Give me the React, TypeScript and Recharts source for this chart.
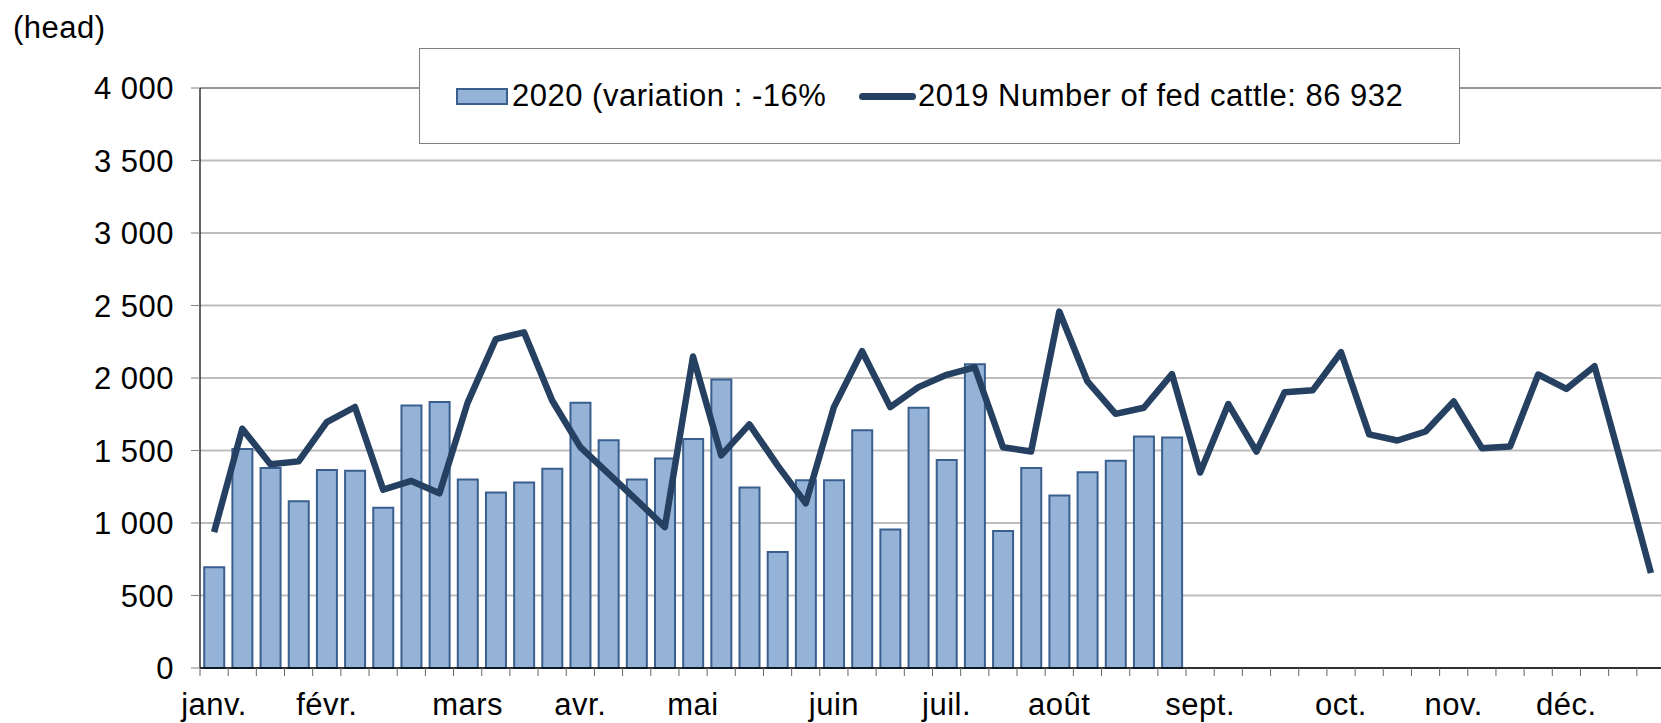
import React from 'react';
import { ComposedChart, Bar, Line, XAxis, YAxis, CartesianGrid, Legend, ReferenceLine } from 'recharts';

// month label shown under the first week of each month, blank otherwise
const weekLabels = [
  'janv.', '', '', '', 'févr.', '', '', '', '', 'mars', '', '', '', 'avr.', '', '', '', 'mai',
  '', '', '', '', 'juin', '', '', '', 'juil.', '', '', '', 'août', '', '', '', '', 'sept.',
  '', '', '', '', 'oct.', '', '', '', 'nov.', '', '', '', 'déc.', '', '', '',
];

const fed2020 = [
  695, 1510, 1380, 1150, 1365, 1360, 1105, 1810, 1835, 1300, 1210, 1280, 1375, 1830, 1570, 1300,
  1445, 1580, 1990, 1245, 800, 1295, 1295, 1640, 955, 1795, 1435, 2095, 945, 1380, 1190, 1350,
  1430, 1597, 1590,
];

const fed2019 = [
  937, 1650, 1405, 1425, 1695, 1800, 1230, 1290, 1205, 1830, 2268, 2315, 1845, 1523, 1340, 1158,
  972, 2148, 1466, 1680, 1397, 1135, 1799, 2185, 1799, 1937, 2022, 2074, 1523, 1493, 2458, 1976,
  1753, 1795, 2027, 1348, 1820, 1493, 1902, 1916, 2178, 1611, 1569, 1631, 1838, 1516, 1528, 2024,
  1925, 2081, 1375, 655,
];

const yTicks = [0, 500, 1000, 1500, 2000, 2500, 3000, 3500, 4000];

const label2020 = '2020 (variation : -16%';
const label2019 = '2019 Number of fed cattle: 86 932';

const data = weekLabels.map((label, i) => ({
  week: i + 1,
  label,
  y2020: i < fed2020.length ? fed2020[i] : null,
  y2019: fed2019[i],
}));

const W = 1665;
const H = 723;
const LEFT = 200;
const BAND = (W - LEFT) / weekLabels.length;
const FONT = '"Liberation Sans", Arial, sans-serif';
const FS = 31;
const LS = 0.5;

const fmt = (v: number) =>
  v >= 1000 ? `${Math.floor(v / 1000)} ${String(v % 1000).padStart(3, '0')}` : String(v);

function WeekTick(props: any) {
  const { x, y, index } = props;
  const lbl = weekLabels[index];
  return (
    <g>
      <line x1={x - BAND / 2} y1={y} x2={x - BAND / 2} y2={y + 8} stroke="#666" strokeWidth={1} />
      {lbl ? (
        <text
          x={x}
          y={y + 47}
          textAnchor="middle"
          fontSize={FS}
          letterSpacing={LS}
          fill="#000"
          fontFamily={FONT}
        >
          {lbl}
        </text>
      ) : null}
    </g>
  );
}

function LegendBox() {
  return (
    <div
      style={{
        position: 'relative',
        width: 1041,
        height: 96,
        boxSizing: 'border-box',
        border: '1.5px solid #808080',
        background: '#fff',
        fontFamily: FONT,
        fontSize: FS,
        letterSpacing: LS,
        color: '#000',
      }}
    >
      <div
        style={{
          position: 'absolute', left: 36, top: 39, width: 52, height: 17,
          boxSizing: 'border-box', background: '#95b3d7', border: '2px solid #3a5f8e',
        }}
      />
      <div style={{ position: 'absolute', left: 92, top: 30, lineHeight: '34px', whiteSpace: 'nowrap' }}>
        {label2020}
      </div>
      <div
        style={{
          position: 'absolute', left: 439, top: 44, width: 57, height: 7,
          borderRadius: 4, background: '#254061',
        }}
      />
      <div style={{ position: 'absolute', left: 498, top: 30, lineHeight: '34px', whiteSpace: 'nowrap' }}>
        {label2019}
      </div>
    </div>
  );
}

export default function App() {
  return (
    <div
      style={{
        position: 'absolute', left: 0, top: 0, width: 1661, height: H,
        overflow: 'hidden', background: '#fff', fontFamily: FONT,
      }}
    >
      <div
        style={{
          position: 'absolute', left: 13, top: 13, fontSize: FS, letterSpacing: LS,
          lineHeight: '30px', color: '#000',
        }}
      >
        (head)
      </div>
      <ComposedChart
        width={W}
        height={H}
        data={data}
        margin={{ top: 88, right: 0, bottom: 0, left: 0 }}
        barCategoryGap="15%"
      >
        <CartesianGrid vertical={false} stroke="#bdbdbd" strokeWidth={2} />
        <ReferenceLine y={4000} stroke="#8a8a8a" strokeWidth={1.5} />
        <XAxis
          dataKey="week"
          height={55}
          interval={0}
          tickLine={false}
          tickSize={0}
          tickMargin={0}
          axisLine={{ stroke: '#000', strokeWidth: 1.5 }}
          tick={<WeekTick />}
        />
        <YAxis
          width={LEFT}
          domain={[0, 4000]}
          ticks={yTicks}
          tickFormatter={fmt}
          tickSize={9}
          tickMargin={17}
          tickLine={{ stroke: '#808080' }}
          axisLine={{ stroke: '#000', strokeWidth: 1.2 }}
          tick={{ fontSize: FS, fill: '#000', fontFamily: FONT, letterSpacing: LS }}
          interval={0}
        />
        <Legend
          layout="vertical"
          align="center"
          verticalAlign="middle"
          wrapperStyle={{ left: 419, top: 48, width: 1041, height: 96 }}
          content={() => <LegendBox />}
        />
        <Bar
          dataKey="y2020"
          name={label2020}
          fill="#95b3d7"
          stroke="#3a5f8e"
          strokeWidth={2}
          isAnimationActive={false}
        />
        <Line
          dataKey="y2019"
          name={label2019}
          stroke="#254061"
          strokeWidth={6.5}
          strokeLinejoin="round"
          dot={false}
          activeDot={false}
          isAnimationActive={false}
        />
      </ComposedChart>
    </div>
  );
}
